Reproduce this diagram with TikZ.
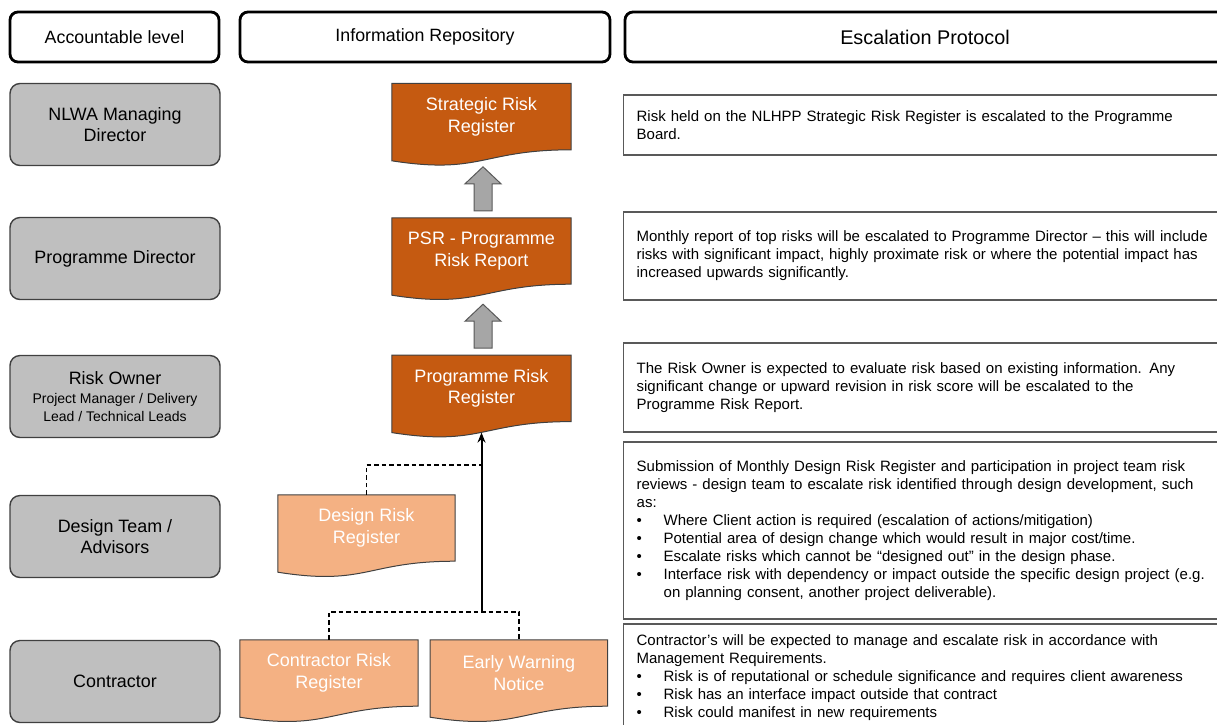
\documentclass[tikz,border=0pt]{standalone}
\usepackage{fontspec}
\setmainfont{Liberation Sans}
\usepackage{tikz}
\usetikzlibrary{positioning,calc,backgrounds,arrows.meta}
\definecolor{darkorange}{HTML}{C55A11}
\definecolor{lightorange}{HTML}{F4B183}
\definecolor{levelgray}{HTML}{BFBFBF}
\definecolor{arrowgray}{HTML}{A6A6A6}
\definecolor{edgegray}{HTML}{595959}

\newcommand{\bul}{\makebox[27pt][l]{•}}
\newcommand{\subline}[1]{{\fontsize{14}{17}\selectfont #1}}
% document outline with wavy bottom, drawn round a node
\newcommand{\docshape}[2]{%
  \filldraw[fill=#2, draw=black!75, line width=1pt] (#1.north west) -- (#1.north east) -- (#1.south east)
    .. controls (#1.south) and ($(#1.south)+(0,25)$) .. ($(#1.south west)+(0,11)$) -- cycle;}
% grey block arrow pointing up, just above a node
\newcommand{\blockup}[1]{%
  \filldraw[fill=arrowgray, draw=edgegray, line width=1pt] ($(#1.north)+(-7.5,-7)$) -- ++(0,-27) -- ++(-9,0)
    -- ++(18,-17) -- ++(18,17) -- ++(-9,0) -- ++(0,27) -- cycle;}

\begin{document}
\begin{tikzpicture}[x=1pt, y=-1pt,
  headbox/.style={draw, line width=2.8pt, rounded corners=8pt, minimum height=50pt, inner sep=0pt, font=\fontsize{17.8}{20}\selectfont},
  levelbox/.style={draw=black!75, line width=1.4pt, fill=levelgray, rounded corners=10pt, minimum width=210pt, minimum height=82pt, align=center, font=\fontsize{17.9}{21}\selectfont},
  docnode/.style={minimum width=179pt, minimum height=66pt, inner sep=0pt, align=center, text=white, font=\fontsize{18}{21.5}\selectfont},
  notebox/.style={draw=edgegray, line width=1.3pt, anchor=west, text width=600pt, inner xsep=13pt, inner ysep=0pt, align=left, font=\fontsize{15}{18}\selectfont},
  link/.style={line width=2pt, -{Stealth[length=10pt, width=8pt]}},
  feed/.style={line width=1.8pt, dash pattern=on 4.5pt off 3pt}]
\useasboundingbox (0,0) rectangle (1217,724);
\clip (0,0) rectangle (1217,724);

% column headers
\node[headbox, minimum width=209pt] (acc) at (114.5,37) {Accountable level};
\node[headbox, minimum width=370pt] (info) at (425,37) {Information Repository};
\node[headbox, minimum width=600pt, font=\fontsize{19.8}{22}\selectfont] (esc) at (925,37) {Escalation Protocol};

% accountable levels
\node[levelbox] (nlwa) at (115,124.5) {NLWA Managing\\Director};
\node[levelbox] (pd) at (115,258.5) {Programme Director};
\node[levelbox] (ro) at (115,396.5) {Risk Owner\\[-2pt]\subline{Project Manager / Delivery}\\[-3pt]\subline{Lead / Technical Leads}};
\node[levelbox] (dt) at (115,536.5) {Design Team /\\Advisors};
\node[levelbox] (con) at (115,681.5) {Contractor};

% repositories
\node[docnode] (psr) at (481.5,251) {PSR - Programme\\Risk Report};
\node[docnode, above=68pt of psr] (srr) {Strategic Risk\\Register};
\node[docnode, below=71pt of psr] (prr) {Programme Risk\\Register};
\node[docnode, minimum width=177pt] (drr) at (366.5,528) {Design Risk\\Register};
\node[docnode, minimum width=178pt] (crr) at (329,673) {Contractor Risk\\Register};
\node[docnode, minimum width=177pt, right=12pt of crr] (ewn) {Early Warning\\Notice};

\begin{scope}[on background layer]
  \foreach \n in {srr,psr,prr} {\docshape{\n}{darkorange}}
  \foreach \n in {drr,crr,ewn} {\docshape{\n}{lightorange}}
\end{scope}

\blockup{psr}
\blockup{prr}

\coordinate (jd) at (481.5,465);
\coordinate (jc) at (481.5,612);
\draw[link] (jc) -- ($(prr.south)+(0,11)$);
\draw[feed] (drr.north) |- (jd);
\draw[feed] (crr.north) |- (jc) -| (ewn.north);

% escalation protocol
\node[notebox, minimum height=60pt] (p1) at (623,125) {Risk held on the NLHPP Strategic Risk Register is escalated to the Programme\\Board.};
\node[notebox, minimum height=88pt] (p2) at (623,256) {Monthly report of top risks will be escalated to Programme Director – this will include\\risks with significant impact, highly proximate risk or where the potential impact has\\increased upwards significantly.};
\node[notebox, minimum height=89pt] (p3) at (623,387.5) {The Risk Owner is expected to evaluate risk based on existing information. Any\\significant change or upward revision in risk score will be escalated to the\\Programme Risk Report.};
\node[notebox, minimum height=177pt] (p4) at (623,530.5) {Submission of Monthly Design Risk Register and participation in project team risk\\reviews - design team to escalate risk identified through design development, such\\as:\\\bul Where Client action is required (escalation of actions/mitigation)\\\bul Potential area of design change which would result in major cost/time.\\\bul Escalate risks which cannot be “designed out” in the design phase.\\\bul Interface risk with dependency or impact outside the specific design project (e.g.\\\hspace*{27pt}on planning consent, another project deliverable).};
\node[notebox, minimum height=108pt] (p5) at (623,678) {Contractor’s will be expected to manage and escalate risk in accordance with\\Management Requirements.\\\bul Risk is of reputational or schedule significance and requires client awareness\\\bul Risk has an interface impact outside that contract\\\bul Risk could manifest in new requirements};
\end{tikzpicture}
\end{document}
